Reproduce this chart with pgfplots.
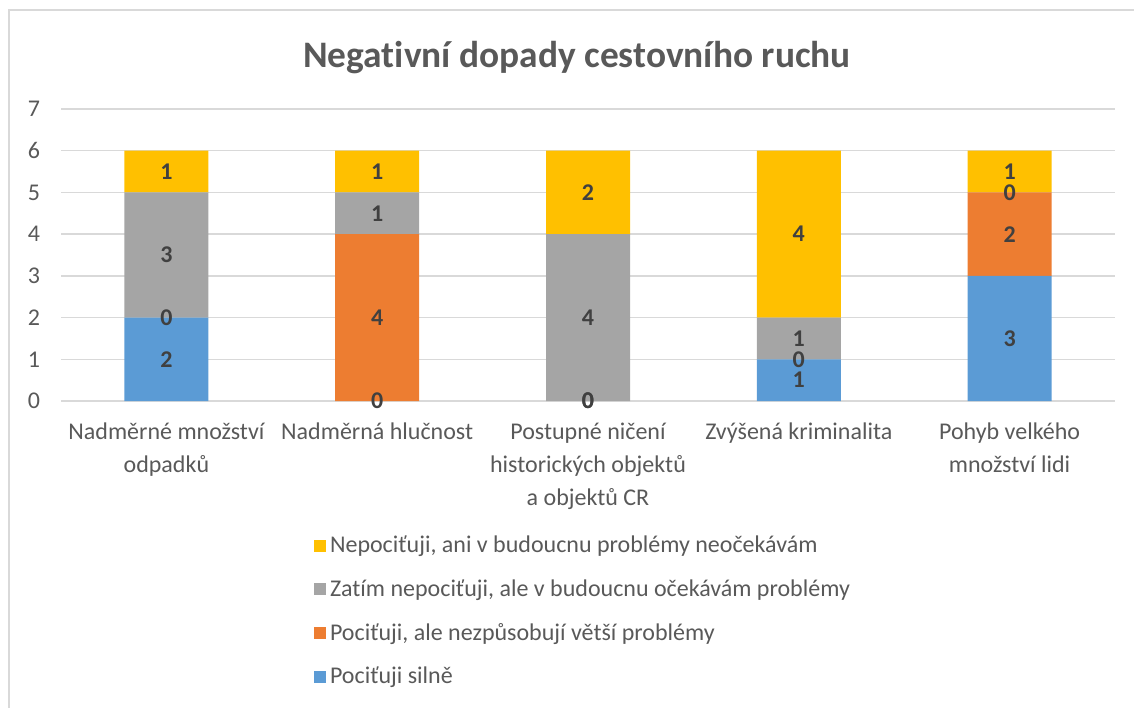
\documentclass[border=0pt]{standalone}
\usepackage{pgfplots}
\usepackage{pgfplotstable}
\pgfplotsset{compat=1.18}
\usepackage{fontspec}
\setmainfont{Carlito}[Ligatures={NoCommon}]

\definecolor{cblue}{HTML}{5B9BD5}
\definecolor{corange}{HTML}{ED7D31}
\definecolor{cgray}{HTML}{A5A5A5}
\definecolor{cgold}{HTML}{FFC000}
\definecolor{cgrid}{HTML}{D9D9D9}
\definecolor{ctext}{HTML}{595959}
\definecolor{clabel}{HTML}{404040}

% categories at 0..4; columns bottom -> top of the stack
\pgfplotstableread{
x silne ale zatim nepoc
0 2 0 3 1
1 0 4 1 1
2 0 0 4 2
3 1 0 1 4
4 3 2 0 1
}\dopady
% middle of every segment, for the data labels
\pgfplotstablecreatecol[create col/expr={\thisrow{silne}/2}]{ms}{\dopady}
\pgfplotstablecreatecol[create col/expr={\thisrow{silne}+\thisrow{ale}/2}]{ma}{\dopady}
\pgfplotstablecreatecol[create col/expr={\thisrow{silne}+\thisrow{ale}+\thisrow{zatim}/2}]{mz}{\dopady}
\pgfplotstablecreatecol[create col/expr={\thisrow{silne}+\thisrow{ale}+\thisrow{zatim}+\thisrow{nepoc}/2}]{mn}{\dopady}

\pgfplotsset{
    frame/.style={
        scale only axis,
        width=527pt, height=146pt,
        at={(0pt,0pt)}, anchor=south west,
        xmin=-0.5, xmax=4.5,
        ymin=0, ymax=7,
        clip=false,
    },
}

\begin{document}
\begin{tikzpicture}
\useasboundingbox (-30.5pt,-153pt) rectangle (536.5pt,200.5pt);
\draw[cgrid, line width=0.75pt] (-26pt,-160pt) -- (-26pt,195.5pt) -- (540pt,195.5pt);
\node[font=\fontsize{18.7}{20}\selectfont\bfseries, text=ctext] at (258pt,171.5pt) {Negativní dopady cestovního ruchu};
\begin{axis}[
    frame,
    ybar stacked,
    bar width=42pt,
    ytick={0,1,...,7},
    xtick=data,
    xticklabels={{Nadměrné množství\\odpadků},{Nadměrná hlučnost},{Postupné ničení\\historických objektů\\a objektů CR},{Zvýšená kriminalita},{Pohyb velkého\\množství lidi}},
    x tick label style={align=center, anchor=north, yshift=-7.5pt, font=\fontsize{12}{16.5}\selectfont, text=ctext},
    y tick label style={xshift=-7pt, font=\fontsize{12}{14}\selectfont, text=ctext},
    /pgf/number format/assume math mode=true,
    ymajorgrids=true,
    grid style={cgrid, line width=0.75pt},
    axis line style={draw=none},
    major tick length=0pt,
    reverse legend,
    legend cell align=left,
    legend style={at={(0.2397,-0.447)}, anchor=north west, draw=none, fill=none,
        font=\fontsize{12}{14}\selectfont, text=ctext, row sep=8pt, inner sep=0pt},
    legend image code/.code={\fill[#1] (-1.5pt,-3pt) rectangle (4.5pt,3pt);},
]
\addplot[fill=cblue, draw=none] table[x=x, y=silne] {\dopady};
\addplot[fill=corange, draw=none] table[x=x, y=ale] {\dopady};
\addplot[fill=cgray, draw=none] table[x=x, y=zatim] {\dopady};
\addplot[fill=cgold, draw=none] table[x=x, y=nepoc] {\dopady};
\legend{Pociťuji silně, {Pociťuji, ale nezpůsobují větší problémy}, {Zatím nepociťuji, ale v budoucnu očekávám problémy}, {Nepociťuji, ani v budoucnu problémy neočekávám}}
\end{axis}
% data labels, one in the middle of every segment (zero ones on the boundary)
\begin{axis}[
    frame,
    hide axis,
    point meta=explicit symbolic,
    nodes near coords,
    nodes near coords style={font=\fontsize{12}{14}\selectfont\bfseries, text=clabel, anchor=center, inner sep=0pt},
]
\addplot[draw=none, mark=none] table[x=x, y=ms, meta=silne] {\dopady};
\addplot[draw=none, mark=none] table[x=x, y=ma, meta=ale] {\dopady};
\addplot[draw=none, mark=none] table[x=x, y=mz, meta=zatim] {\dopady};
\addplot[draw=none, mark=none] table[x=x, y=mn, meta=nepoc] {\dopady};
\end{axis}
\end{tikzpicture}
\end{document}
